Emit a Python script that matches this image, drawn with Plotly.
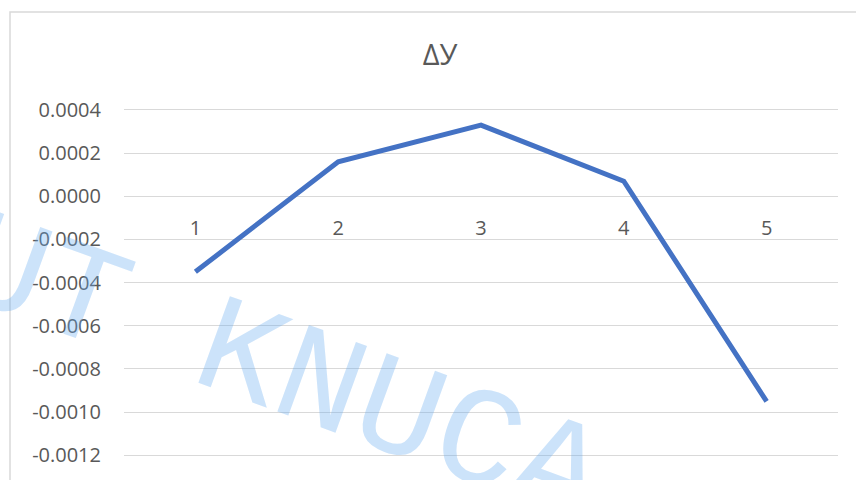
import plotly.graph_objects as go

# Series data
categories = [1, 2, 3, 4, 5]
delta_y = [-0.00035, 0.00016, 0.00033, 0.00007, -0.00095]

# Value-axis ticks
y_tickvals = [-0.0012, -0.0010, -0.0008, -0.0006, -0.0004, -0.0002, 0.0, 0.0002, 0.0004]
y_ticktext = ["-0.0012", "-0.0010", "-0.0008", "-0.0006", "-0.0004",
              "-0.0002", "0.0000", "0.0002", "0.0004"]
x_ticktext = ["1", "2", "3", "4", "5"]

W, H = 856, 480
ML, MR, MT, MB = 124, 18, 100, 0
y_range = [-0.0013145, 0.0004463]

TEXT = "#595959"
GRID = "#D9D9D9"
FONT = "Open Sans"

fig = go.Figure()
fig.add_trace(go.Scatter(
    x=categories, y=delta_y, mode="lines",
    line=dict(color="#4472C4", width=5, shape="linear"),
    hoverinfo="skip", showlegend=False,
))

# category axis crosses the value axis at zero
zero_pos = (0 - y_range[0]) / (y_range[1] - y_range[0])

fig.update_layout(
    width=W, height=H,
    margin=dict(l=ML, r=MR, t=MT, b=MB),
    paper_bgcolor="white", plot_bgcolor="white",
    title=dict(text="ΔУ", x=440 / W, xanchor="center",
               y=1 - 55 / H, yanchor="middle", yref="container",
               font=dict(family=FONT, size=29, color=TEXT)),
    xaxis=dict(range=[0.5, 5.5], tickvals=categories, ticktext=x_ticktext,
               showgrid=False, zeroline=False, showline=False, ticks="",
               anchor="free", position=zero_pos, ticklabelstandoff=18,
               tickfont=dict(family=FONT, size=20, color=TEXT)),
    yaxis=dict(range=y_range, tickvals=y_tickvals, ticktext=y_ticktext,
               showgrid=True, gridcolor=GRID, gridwidth=1.3,
               zeroline=True, zerolinecolor=GRID, zerolinewidth=1.3,
               showline=False, ticks="", ticklabelstandoff=22,
               tickfont=dict(family=FONT, size=20, color=TEXT)),
)

# chart-area frame
pw = W - ML - MR
ph = H - MT - MB
fig.add_shape(type="rect", xref="paper", yref="paper",
              x0=(10 - ML) / pw, x1=1.2, y0=-0.2, y1=1 + (MT - 12) / ph,
              line=dict(color=GRID, width=1.5), fillcolor="rgba(0,0,0,0)",
              layer="below")

# repository watermark
fig.add_annotation(
    text="UT KNUCA", xref="paper", yref="paper",
    x=(280 - ML) / pw, y=(H - 372) / ph, xanchor="center", yanchor="middle",
    textangle=20, showarrow=False,
    font=dict(family="Liberation Mono", size=140, color="rgba(100,170,240,0.33)"),
)

fig.write_html("out.html")
